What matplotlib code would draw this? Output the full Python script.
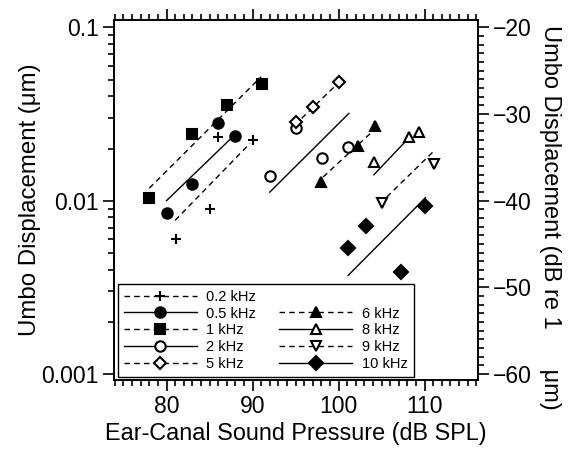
import numpy as np
import matplotlib.pyplot as plt
from matplotlib.lines import Line2D
from matplotlib.ticker import MultipleLocator, LogLocator, NullFormatter

plt.rcParams['font.family'] = ['Liberation Sans', 'DejaVu Sans']

# Data points (SPL in dB, displacement in um)
spl_02 = [81.1, 85.0, 86.0, 90.1]
disp_02 = [0.0060, 0.0089, 0.0234, 0.0224]
spl_05 = [80.0, 83.0, 86.0, 88.0]
disp_05 = [0.0085, 0.0125, 0.0279, 0.0236]
spl_1 = [78.0, 83.0, 87.0, 91.1]
disp_1 = [0.0104, 0.0244, 0.0356, 0.0471]
spl_2 = [92.0, 95.1, 98.1, 101.1]
disp_2 = [0.0139, 0.0261, 0.0177, 0.0203]
spl_5 = [95.1, 97.0, 100.1]
disp_5 = [0.0285, 0.0348, 0.0482]
spl_6 = [98.0, 102.2, 104.2]
disp_6 = [0.0129, 0.0206, 0.0269]
spl_8 = [104.1, 108.2, 109.3]
disp_8 = [0.0168, 0.0234, 0.0250]
spl_9 = [105.1, 111.1]
disp_9 = [0.0097, 0.0163]
spl_10 = [101.1, 103.2, 107.2, 110.1]
disp_10 = [0.0053, 0.0071, 0.0039, 0.0093]

# fitted growth lines (end points)
fit_x_02, fit_y_02 = [81.0, 89.7], [0.0077, 0.0214]
fit_x_05, fit_y_05 = [80.0, 87.9], [0.0100, 0.0239]
fit_x_1, fit_y_1 = [78.0, 91.0], [0.0118, 0.0519]
fit_x_2, fit_y_2 = [92.0, 101.2], [0.0112, 0.0319]
fit_x_5, fit_y_5 = [94.9, 100.1], [0.0273, 0.0485]
fit_x_6, fit_y_6 = [98.2, 104.1], [0.0137, 0.0255]
fit_x_8, fit_y_8 = [104.1, 108.3], [0.0141, 0.0234]
fit_x_9, fit_y_9 = [105.6, 111.1], [0.0105, 0.0194]
fit_x_10, fit_y_10 = [101.1, 110.1], [0.0037, 0.0104]

labels = ['0.2 kHz', '0.5 kHz', '1 kHz', '2 kHz', '5 kHz',
          '6 kHz', '8 kHz', '9 kHz', '10 kHz']

series = [
    (spl_02, disp_02, fit_x_02, fit_y_02, '+', 'k', '--'),
    (spl_05, disp_05, fit_x_05, fit_y_05, 'o', 'k', '-'),
    (spl_1, disp_1, fit_x_1, fit_y_1, 's', 'k', '--'),
    (spl_2, disp_2, fit_x_2, fit_y_2, 'o', 'w', '-'),
    (spl_5, disp_5, fit_x_5, fit_y_5, 'D', 'w', '--'),
    (spl_6, disp_6, fit_x_6, fit_y_6, '^', 'k', '--'),
    (spl_8, disp_8, fit_x_8, fit_y_8, '^', 'w', '-'),
    (spl_9, disp_9, fit_x_9, fit_y_9, 'v', 'w', '--'),
    (spl_10, disp_10, fit_x_10, fit_y_10, 'D', 'k', '-'),
]

fig = plt.figure(figsize=(5.69, 4.54), dpi=100)
ax = fig.add_axes([0.2004, 0.163, 0.6396, 0.794])

handles = []
for (xs, ys, fx, fy, mk, fc, ls), lab in zip(series, labels):
    ms = 7.5
    if mk == 'D':
        ms = 6 if fc == 'w' else 7
    dash = (4, 3) if ls == '--' else None
    line, = ax.plot(fx, fy, color='k', lw=1.0, ls=ls)
    if dash:
        line.set_dashes(dash)
    ax.plot(xs, ys, ls='none', marker=mk, ms=ms, mfc=fc, mec='k',
            mew=1.5, zorder=3)
    h = Line2D([], [], color='k', lw=1.0, ls=ls, marker=mk, ms=ms,
               mfc=fc, mec='k', mew=1.5, label=lab)
    if dash:
        h.set_dashes(dash)
    handles.append(h)

blank = Line2D([], [], ls='none', label=' ')
leg_handles = handles[:5] + [blank] + handles[5:]

ax.set_yscale('log')
ax.set_xlim(73.9, 116.2)
ymin, ymax = 0.000923, 0.111
ax.set_ylim(ymin, ymax)

ax.xaxis.set_major_locator(MultipleLocator(10))
ax.xaxis.set_minor_locator(MultipleLocator(1))
ax.yaxis.set_minor_locator(LogLocator(base=10, subs=np.arange(2, 10), numticks=10))
ax.yaxis.set_minor_formatter(NullFormatter())
ax.set_yticks([0.001, 0.01, 0.1])
ax.set_yticklabels(['0.001', '0.01', '0.1'])

ax.tick_params(axis='both', which='major', direction='out', length=8,
               width=1.2, labelsize=16.5, pad=3)
ax.tick_params(axis='both', which='minor', direction='out', length=4.5,
               width=1.2)
ax.tick_params(axis='x', which='both', top=True)
ax.tick_params(axis='y', which='both', right=False)
for sp in ax.spines.values():
    sp.set_linewidth(1.3)

ax.set_xlabel('Ear-Canal Sound Pressure (dB SPL)', fontsize=16.8, labelpad=3)
ax.set_ylabel('Umbo Displacement (\u03bcm)', fontsize=17.3, labelpad=0)

ax2 = ax.twinx()
ax2.set_ylim(20 * np.log10(ymin), 20 * np.log10(ymax))
ax2.yaxis.set_major_locator(MultipleLocator(10))
ax2.yaxis.set_minor_locator(MultipleLocator(1))
ax2.tick_params(axis='y', which='major', direction='out', length=8,
                width=1.2, labelsize=16.5, pad=3)
ax2.tick_params(axis='y', which='minor', direction='out', length=4.5,
                width=1.2)
for sp in ax2.spines.values():
    sp.set_linewidth(1.3)
ax2.set_ylabel('Umbo Displacement (dB re 1      \u03bcm)', fontsize=17,
               rotation=-90, va='bottom')
ax2.yaxis.set_label_coords(1.168, 0.45)

leg = ax.legend(handles=leg_handles, ncol=2, loc='lower left',
                bbox_to_anchor=(0.011, 0.008), borderaxespad=0,
                fontsize=10.5, handlelength=5.0, handletextpad=0.65,
                columnspacing=1.6, labelspacing=0.2, borderpad=0.4,
                fancybox=False, framealpha=1, edgecolor='k')
leg.get_frame().set_linewidth(1.0)
leg.set_zorder(5)

fig.savefig('out.png', dpi=100)
